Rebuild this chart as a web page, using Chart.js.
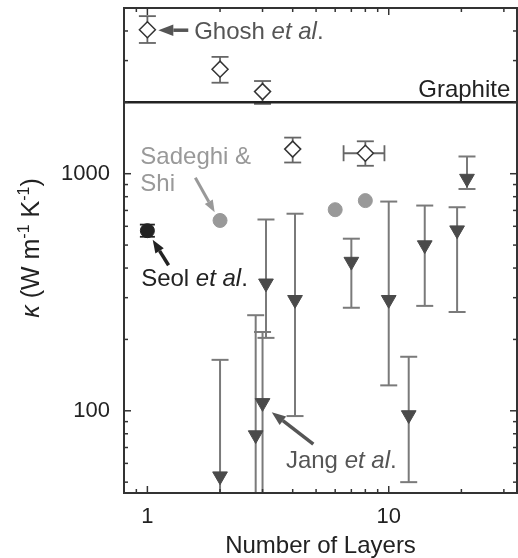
<!DOCTYPE html>
<html>
<head>
<meta charset="utf-8">
<script src="https://cdn.jsdelivr.net/npm/chart.js@4.4.1/dist/chart.umd.min.js"></script>
<style>
  html, body { margin: 0; padding: 0; background: #fff; }
</style>
</head>
<body>
<canvas id="myChart" width="518" height="558"></canvas>
<script>
// axis ranges and labelled ticks
const xRange = [0.8, 34]
const yRange = [45, 5000]
const xLabels = [1, 10]
const yLabels = [100, 1000]
const xMinor = [0.9, 2, 3, 4, 5, 6, 7, 8, 9, 20, 30]
const yMinor = [50, 60, 70, 80, 90, 200, 300, 400, 500, 600, 700, 800, 900, 2000, 3000, 4000]

// graphite reference value
const graphiteK = 2000

// Ghosh et al. (open diamonds)
const ghoshLayers = [1, 2, 3, 4, 8]
const ghoshK = [4050, 2760, 2220, 1270, 1220]
const ghoshLow = [3560, 2420, 1970, 1115, 1080]
const ghoshHigh = [4620, 3110, 2460, 1420, 1370]
const ghoshLayersLow = [1, 2, 3, 4, 6.5]
const ghoshLayersHigh = [1, 2, 3, 4, 9.6]

// Sadeghi & Shi (grey circles)
const sadeghiLayers = [2, 6, 8]
const sadeghiK = [635, 705, 770]
const sadeghiLow = [622, 692, 756]
const sadeghiHigh = [648, 718, 784]

// Seol et al. (black circle)
const seolLayers = [1]
const seolK = [575]
const seolLow = [542]
const seolHigh = [610]

// Jang et al. (down triangles)
const jangLayers = [2.0, 2.81, 3.0, 3.1, 4.09, 7.0, 10.0, 12.1, 14.1, 19.2, 21.1]
const jangK = [53, 79, 108, 345, 294, 426, 294, 96, 500, 578, 954]
const jangLow = [20, 20, 20, 203, 95, 272, 128, 50, 277, 261, 862]
const jangHigh = [164, 253, 215, 641, 678, 532, 763, 169, 734, 722, 1182]

const FONT = '"Liberation Sans", Arial, sans-serif'

function pts(xs, ys) {
  return xs.map(function (v, i) { return { x: v, y: ys[i] } })
}

// text labels and arrows, placed in data units
const notes = [
  { x: 1.563, y: 4000, color: '#555', parts: [{ t: 'Ghosh ' }, { t: 'et al', i: true }, { t: '.' }] },
  { x: 31.9, y: 2296, color: '#222', align: 'right', parts: [{ t: 'Graphite' }] },
  { x: 0.935, y: 1190, color: '#999', parts: [{ t: 'Sadeghi &' }] },
  { x: 0.935, y: 917, color: '#999', parts: [{ t: 'Shi' }] },
  { x: 0.942, y: 366, color: '#222', parts: [{ t: 'Seol ' }, { t: 'et al', i: true }, { t: '.' }] },
  { x: 3.75, y: 62.2, color: '#555', parts: [{ t: 'Jang ' }, { t: 'et al', i: true }, { t: '.' }] },
]
const arrows = [
  { from: [1.477, 4030], to: [1.11, 4030], color: '#555', w: 3.5, head: 15 },
  { from: [1.58, 962], to: [1.90, 688], color: '#999', w: 3, head: 12 },
  { from: [1.224, 411], to: [1.052, 526], color: '#222', w: 3.5, head: 13 },
  { from: [4.87, 72.4], to: [3.276, 98.7], color: '#555', w: 3.5, head: 14 },
]

function rich(ctx, parts, x, y, size, align) {
  const fonts = parts.map(function (p) {
    return (p.i ? 'italic ' : '') + (p.s ? Math.round(size * 0.62) : size) + 'px ' + FONT
  })
  let total = 0
  parts.forEach(function (p, k) { ctx.font = fonts[k]; total += ctx.measureText(p.t).width })
  let cx = align === 'right' ? x - total : align === 'center' ? x - total / 2 : x
  const base = y + size * 0.35
  ctx.textAlign = 'left'
  ctx.textBaseline = 'alphabetic'
  parts.forEach(function (p, k) {
    ctx.font = fonts[k]
    ctx.fillText(p.t, cx, p.s ? base - size * 0.38 : base)
    cx += ctx.measureText(p.t).width
  })
}

function arrow(ctx, x1, y1, x2, y2, color, w, head) {
  const a = Math.atan2(y2 - y1, x2 - x1)
  const bx = x2 - head * Math.cos(a), by = y2 - head * Math.sin(a)
  const hw = head * 0.38
  ctx.strokeStyle = color
  ctx.fillStyle = color
  ctx.lineWidth = w
  ctx.beginPath()
  ctx.moveTo(x1, y1)
  ctx.lineTo(bx, by)
  ctx.stroke()
  ctx.beginPath()
  ctx.moveTo(x2, y2)
  ctx.lineTo(bx - hw * Math.sin(a), by + hw * Math.cos(a))
  ctx.lineTo(bx + hw * Math.sin(a), by - hw * Math.cos(a))
  ctx.closePath()
  ctx.fill()
}

function seg(ctx, x1, y1, x2, y2) {
  ctx.beginPath()
  ctx.moveTo(x1, y1)
  ctx.lineTo(x2, y2)
  ctx.stroke()
}

function noPad(s) {
  s.paddingTop = 0
  s.paddingBottom = 0
  s.paddingLeft = 0
  s.paddingRight = 0
}

const errorBars = {
  id: 'errorBars',
  beforeDatasetsDraw(chart) {
    const { ctx, chartArea: a, scales: { x, y } } = chart
    ctx.save()
    ctx.beginPath()
    ctx.rect(a.left, a.top, a.right - a.left, a.bottom - a.top)
    ctx.clip()
    function vbars(xs, lo, hi, cap, color, w) {
      ctx.strokeStyle = color
      ctx.lineWidth = w
      xs.forEach(function (v, i) {
        const px = x.getPixelForValue(v)
        const p1 = y.getPixelForValue(lo[i]), p2 = y.getPixelForValue(hi[i])
        seg(ctx, px, p1, px, p2)
        seg(ctx, px - cap, p1, px + cap, p1)
        seg(ctx, px - cap, p2, px + cap, p2)
      })
    }
    vbars(jangLayers, jangLow, jangHigh, 8.5, '#7a7a7a', 2)
    vbars(ghoshLayers, ghoshLow, ghoshHigh, 8.5, '#666', 1.8)
    vbars(sadeghiLayers, sadeghiLow, sadeghiHigh, 6, '#aaa', 1.5)
    vbars(seolLayers, seolLow, seolHigh, 7.5, '#222', 1.8)
    // horizontal error bar of Ghosh et al.
    ctx.strokeStyle = '#666'
    ctx.lineWidth = 1.8
    ghoshLayers.forEach(function (v, i) {
      if (ghoshLayersLow[i] === ghoshLayersHigh[i]) return
      const py = y.getPixelForValue(ghoshK[i])
      const l = x.getPixelForValue(ghoshLayersLow[i]), r = x.getPixelForValue(ghoshLayersHigh[i])
      seg(ctx, l, py, r, py)
      seg(ctx, l, py - 8, l, py + 8)
      seg(ctx, r, py - 8, r, py + 8)
    })
    ctx.restore()
  },
}

const frame = {
  id: 'frame',
  afterDraw(chart) {
    const { ctx, chartArea: a, scales: { x, y } } = chart
    ctx.save()
    ctx.strokeStyle = '#333'
    ctx.lineWidth = 1.5
    xLabels.concat(xMinor).forEach(function (v) {
      const p = x.getPixelForValue(v)
      const len = xLabels.includes(v) ? 7 : 4
      seg(ctx, p, a.bottom, p, a.bottom - len)
      seg(ctx, p, a.top, p, a.top + len)
    })
    yLabels.concat(yMinor).forEach(function (v) {
      const p = y.getPixelForValue(v)
      const len = yLabels.includes(v) ? 7 : 4
      seg(ctx, a.left, p, a.left + len, p)
      seg(ctx, a.right, p, a.right - len, p)
    })
    ctx.lineWidth = 2
    ctx.strokeRect(a.left, a.top, a.right - a.left, a.bottom - a.top)

    // annotations
    notes.forEach(function (n) {
      ctx.fillStyle = n.color
      rich(ctx, n.parts, x.getPixelForValue(n.x), y.getPixelForValue(n.y), 24, n.align || 'left')
    })
    arrows.forEach(function (r) {
      arrow(ctx, x.getPixelForValue(r.from[0]), y.getPixelForValue(r.from[1]),
        x.getPixelForValue(r.to[0]), y.getPixelForValue(r.to[1]), r.color, r.w, r.head)
    })

    // y axis title with italic kappa and superscripts
    ctx.translate(30, 248)
    ctx.rotate(-Math.PI / 2)
    ctx.fillStyle = '#222'
    rich(ctx, [{ t: 'κ', i: true }, { t: ' (W m' }, { t: '-1', s: true }, { t: ' K' }, { t: '-1', s: true }, { t: ')' }], 0, 0, 25, 'center')
    ctx.restore()
  },
}

const config = {
  type: 'scatter',
  data: {
    datasets: [
      {
        label: 'Graphite',
        data: pts(xRange, [graphiteK, graphiteK]),
        showLine: true,
        borderColor: '#222',
        borderWidth: 2.5,
        pointRadius: 0,
      },
      {
        label: 'Ghosh et al.',
        data: pts(ghoshLayers, ghoshK),
        pointStyle: 'rectRot',
        pointRadius: 8,
        backgroundColor: '#fff',
        borderColor: '#333',
        borderWidth: 1.5,
      },
      {
        label: 'Sadeghi & Shi',
        data: pts(sadeghiLayers, sadeghiK),
        pointStyle: 'circle',
        pointRadius: 7,
        backgroundColor: '#999',
        borderColor: '#999',
        borderWidth: 1,
      },
      {
        label: 'Seol et al.',
        data: pts(seolLayers, seolK),
        pointStyle: 'circle',
        pointRadius: 7,
        backgroundColor: '#222',
        borderColor: '#222',
        borderWidth: 1,
      },
      {
        label: 'Jang et al.',
        data: pts(jangLayers, jangK),
        pointStyle: 'triangle',
        pointRotation: 180,
        pointRadius: 8.5,
        backgroundColor: '#4a4a4a',
        borderColor: '#4a4a4a',
        borderWidth: 1,
      },
    ],
  },
  options: {
    responsive: false,
    animation: false,
    layout: { autoPadding: false, padding: { top: 8, right: 1, left: 0, bottom: 0 } },
    plugins: { legend: { display: false }, tooltip: { enabled: false } },
    scales: {
      x: {
        type: 'logarithmic',
        min: xRange[0],
        max: xRange[1],
        grid: { display: false, drawTicks: false },
        border: { display: false },
        afterBuildTicks: function (s) { s.ticks = xLabels.map(function (v) { return { value: v } }) },
        afterFit: function (s) { s.height = 65; noPad(s) },
        ticks: {
          padding: 11,
          color: '#222',
          autoSkip: false,
          maxRotation: 0,
          font: { family: FONT, size: 22 },
          callback: function (v) { return String(v) },
        },
        title: {
          display: true,
          text: 'Number of Layers',
          color: '#222',
          font: { family: FONT, size: 24, lineHeight: 1 },
          padding: { top: 0, bottom: 0 },
        },
      },
      y: {
        type: 'logarithmic',
        min: yRange[0],
        max: yRange[1],
        grid: { display: false, drawTicks: false },
        border: { display: false },
        afterBuildTicks: function (s) { s.ticks = yLabels.map(function (v) { return { value: v } }) },
        afterFit: function (s) { s.width = 124; noPad(s) },
        ticks: {
          padding: 14,
          color: '#222',
          autoSkip: false,
          font: { family: FONT, size: 22 },
          callback: function (v) { return String(v) },
        },
      },
    },
  },
  plugins: [errorBars, frame],
}

const myChart = new Chart(document.getElementById('myChart'), config)
</script>
</body>
</html>
